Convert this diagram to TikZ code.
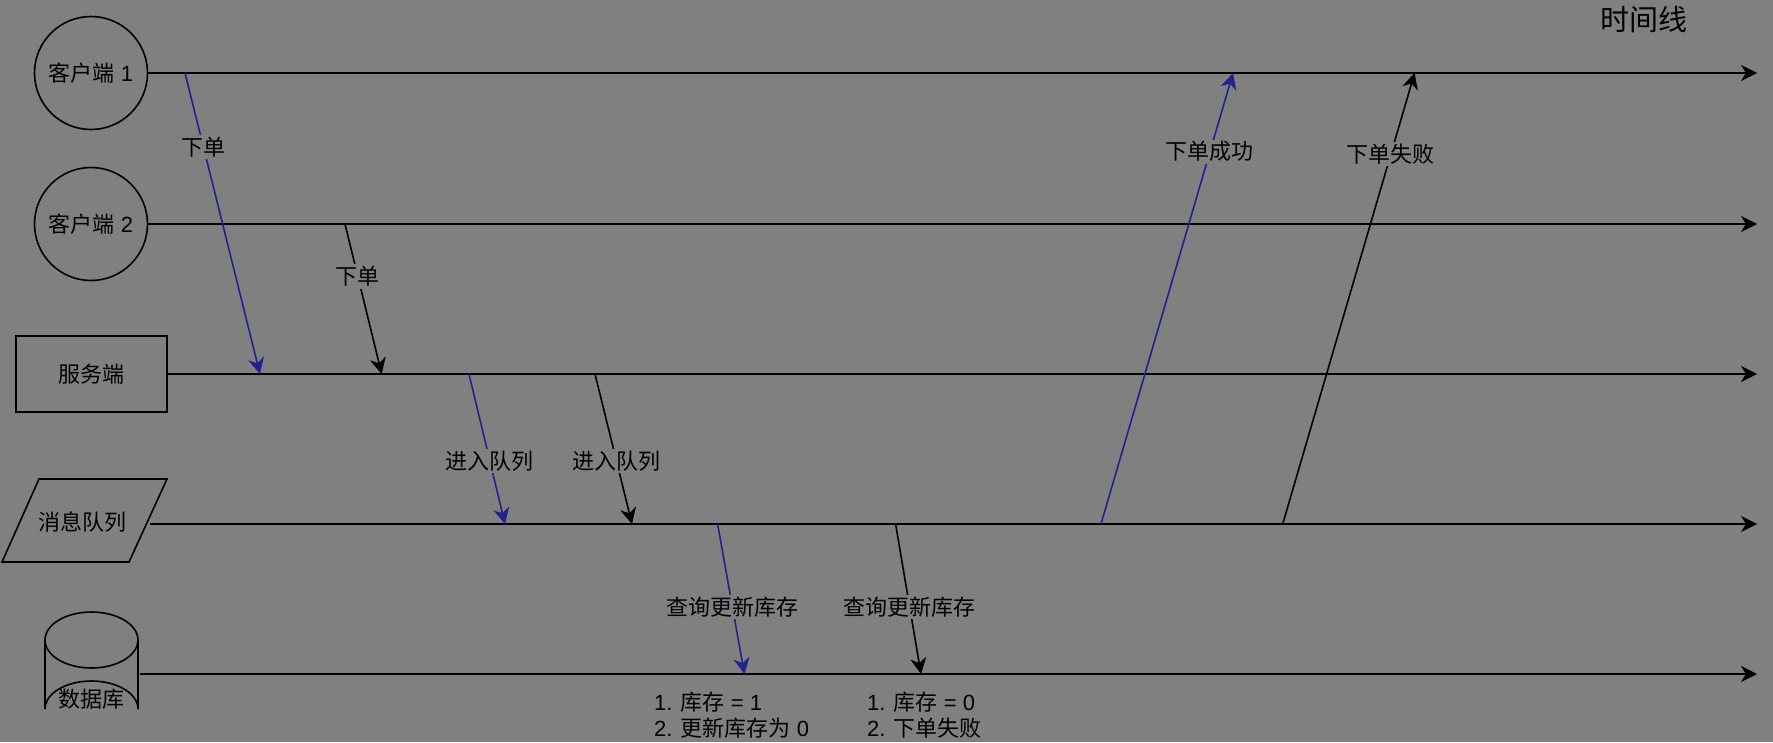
\documentclass[tikz,border=0pt]{standalone}
\usepackage{fontspec}
\setmainfont{Liberation Sans}
\newfontfamily\cjk{Noto Sans CJK SC}
\usetikzlibrary{arrows.meta}
\definecolor{bg}{RGB}{128,128,128}
\definecolor{msgblue}{RGB}{34,34,140}
\begin{document}
\begin{tikzpicture}[x=1pt,y=-1pt,
  txt/.style={font=\fontsize{22}{25.5}\selectfont, text=black},
  tip/.style={-{Stealth[length=16pt,width=16pt,inset=5pt]}},
  lane/.style={line width=2pt, tip},
  msg/.style={line width=1.6pt, tip},
  bluemsg/.style={msg, draw=msgblue},
  lbl/.style={txt, fill=bg, inner sep=2pt},
  outline/.style={draw, line width=1.6pt}
]
\fill[bg] (0,0) rectangle (1773,742);
\useasboundingbox (0,0) rectangle (1773,742);

% actors
\node[outline, circle, minimum size=113pt, inner sep=0pt, txt] (c1) at (91,73) {{\cjk 客户端} 1};
\node[outline, circle, minimum size=113pt, inner sep=0pt, txt] (c2) at (91,224) {{\cjk 客户端} 2};
\node[outline, rectangle, minimum width=151pt, minimum height=76pt, inner sep=0pt, txt] (srv) at (91.5,374) {\cjk 服务端};
\draw[outline] (2,562) -- (39,479) -- (167,479) -- (129,562) -- cycle;
\node[txt, inner sep=0pt] (mq) at (82,522) {\cjk 消息队列};
\draw[outline] (45,640) -- (45,709) arc[start angle=180, end angle=360, x radius=46.5, y radius=28] -- (138,640);
\draw[outline] (91.5,640) ellipse[x radius=46.5, y radius=28];
\node[txt, inner sep=0pt] (db) at (91.5,699) {\cjk 数据库};

% lane ends
\coordinate (s3) at (150,524);
\coordinate (s4) at (140,674);
\coordinate (e1) at (1757,73);
\coordinate (e2) at (1757,224);
\coordinate (e3) at (1757,374);
\coordinate (e4) at (1757,524);
\coordinate (e5) at (1757,674);
\draw[lane] (c1.east) -- (e1);
\draw[lane] (c2.east) -- (e2);
\draw[lane] (srv.east) -- (e3);
\draw[lane] (s3) -- (e4);
\draw[lane] (s4) -- (e5);

\node[font=\fontsize{29}{32}\selectfont\cjk, text=black] (tl) at (1644,19) {时间线};

% message points
\coordinate (a1s) at (185,73);    \coordinate (a1e) at (260,374);
\coordinate (a2s) at (345,224);   \coordinate (a2e) at (381.7,374);
\coordinate (a3s) at (469,374);   \coordinate (a3e) at (505,524);
\coordinate (a4s) at (595,374);   \coordinate (a4e) at (632,524);
\coordinate (a5s) at (717.6,524); \coordinate (a5e) at (744.4,674);
\coordinate (a6s) at (895.6,524); \coordinate (a6e) at (921,674);
\coordinate (a7s) at (1101,524);  \coordinate (a7e) at (1233,73);
\coordinate (a8s) at (1282.7,524);\coordinate (a8e) at (1414.6,73);

\draw[bluemsg] (a1s) -- node[lbl, pos=0.245] (l1) {\cjk 下单} (a1e);
\draw[msg] (a2s) -- node[lbl, pos=0.35] (l2) {\cjk 下单} (a2e);
\draw[bluemsg] (a3s) -- node[lbl, pos=0.58] (l3) {\cjk 进入队列} (a3e);
\draw[msg] (a4s) -- node[lbl, pos=0.58] (l4) {\cjk 进入队列} (a4e);
\draw[bluemsg] (a5s) -- node[lbl, pos=0.553] (l5) {\cjk 查询更新库存} (a5e);
\draw[msg] (a6s) -- node[lbl, pos=0.553] (l6) {\cjk 查询更新库存} (a6e);
\draw[bluemsg] (a7s) -- node[lbl, pos=0.8255] (l7) {\cjk 下单成功} (a7e);
\draw[msg] (a8s) -- node[lbl, pos=0.82] (l8) {\cjk 下单失败} (a8e);

% results
\node[txt, anchor=west, align=left, inner sep=0pt] (r1) at (654,715) {1. {\cjk 库存} = 1\\2. {\cjk 更新库存为} 0};
\node[txt, anchor=west, align=left, inner sep=0pt] (r2) at (867,715) {1. {\cjk 库存} = 0\\2. {\cjk 下单失败}};
\end{tikzpicture}
\end{document}
